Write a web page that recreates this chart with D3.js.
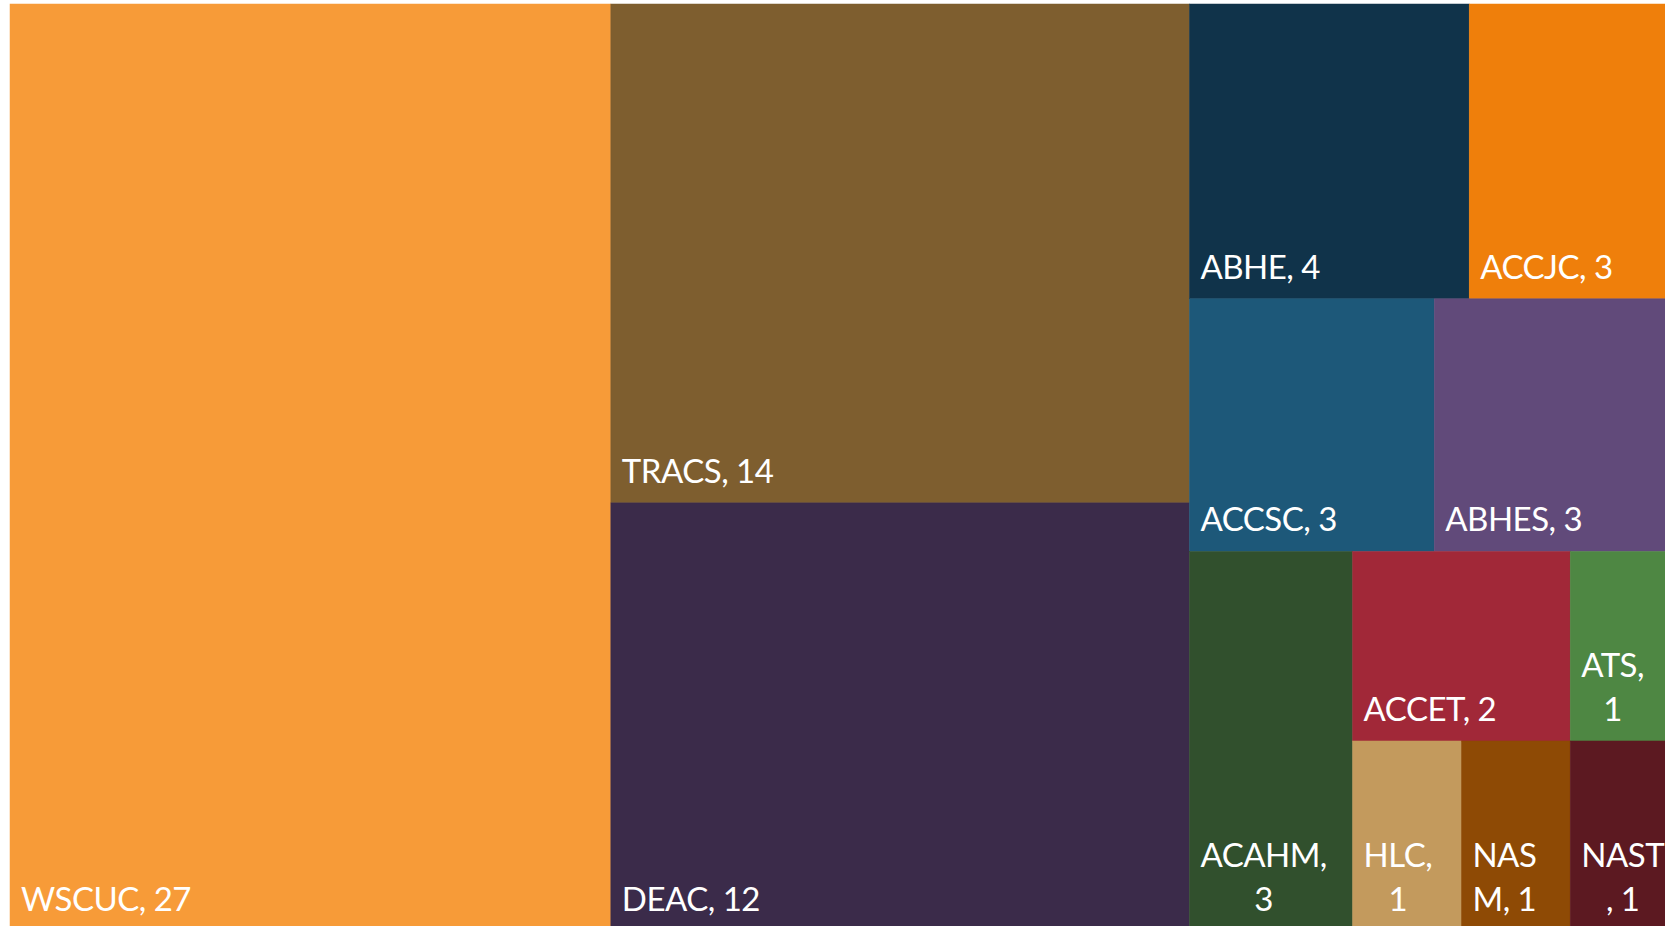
<!DOCTYPE html>
<html>
<head>
<meta charset="utf-8">
<script src="https://cdn.jsdelivr.net/npm/d3@7"></script>
<style>
  html, body { margin: 0; padding: 0; background: #ffffff; overflow: hidden; }
  #chart text { font-family: Lato, "Open Sans", sans-serif; fill: #ffffff; letter-spacing: -0.5px; }
</style>
</head>
<body>
<div id="chart"></div>
<script>
var names = ["WSCUC", "TRACS", "DEAC", "ABHE", "ACCJC", "ACCSC", "ABHES", "ACAHM", "ACCET", "ATS", "HLC", "NASM", "NAST"];
var counts = [27, 14, 12, 4, 3, 3, 3, 3, 2, 1, 1, 1, 1];
var colors = ["#F79B38", "#7E5E2F", "#3B2B4A", "#10334A", "#EF7F0B", "#1D5879", "#614A7A",
              "#31502D", "#A12838", "#4E8743", "#C39A5D", "#8E4A05", "#5C1921"];

var width = 1665, height = 926;
// the plot area runs a little past the right and bottom edges of the picture
var plotX = 10, plotY = 4, plotW = 1669, plotH = 926.5;
var pad = 11, fontSize = 33, lineGap = 44, baseOff = 20;

var svg = d3.select("#chart").append("svg")
  .attr("width", width)
  .attr("height", height);

var rows = names.map(function(n, i) { return {name: n, value: counts[i], color: colors[i]}; });

var root = d3.hierarchy({children: rows})
  .sum(function(d) { return d.value || 0; })
  .sort(function(a, b) { return b.value - a.value; });

// squarify like d3's, but d3 clamps the ratio at 1 and this layout wants a bit under 1
function squarify(ratio) {
  return function(parent, x0, y0, x1, y1) {
    var nodes = parent.children, n = nodes.length, i0 = 0, i1 = 0, value = parent.value;
    while (i0 < n) {
      var dx = x1 - x0, dy = y1 - y0;
      var sum = nodes[i1++].value, minV = sum, maxV = sum;
      var alpha = Math.max(dy / dx, dx / dy) / (value * ratio);
      var beta = sum * sum * alpha;
      var minRatio = Math.max(maxV / beta, beta / minV);
      for (; i1 < n; ++i1) {
        var v = nodes[i1].value;
        sum += v;
        if (v < minV) minV = v;
        if (v > maxV) maxV = v;
        beta = sum * sum * alpha;
        var r = Math.max(maxV / beta, beta / minV);
        if (r > minRatio) { sum -= v; break; }
        minRatio = r;
      }
      var row = {value: sum, children: nodes.slice(i0, i1)};
      if (dx < dy) d3.treemapDice(row, x0, y0, x1, y0 += dy * sum / value);
      else d3.treemapSlice(row, x0, y0, x0 += dx * sum / value, y1);
      value -= sum;
      i0 = i1;
    }
  };
}

d3.treemap()
  .tile(squarify(0.85))
  .size([plotW, plotH])
  .round(false)(root);

var g = svg.append("g").attr("transform", "translate(" + plotX + "," + plotY + ")");

var cell = g.selectAll("g.cell")
  .data(root.leaves())
  .enter().append("g")
  .attr("class", "cell");

cell.append("rect")
  .attr("x", function(d) { return d.x0; })
  .attr("y", function(d) { return d.y0; })
  .attr("width", function(d) { return d.x1 - d.x0; })
  .attr("height", function(d) { return d.y1 - d.y0; })
  .attr("fill", function(d) { return d.data.color; })
  .attr("stroke", function(d) { return d.data.color; })
  .attr("stroke-width", 0.5);

// measuring helper
var probe = svg.append("text").attr("font-size", fontSize).attr("x", -1000).attr("y", -1000);
function textW(s) {
  probe.text(s);
  return probe.node().getComputedTextLength();
}

// greedy wrap: break at spaces, break inside a word if it still doesn't fit
function wrap(str, maxW) {
  var words = str.split(" ");
  var lines = [];
  var line = "";
  words.forEach(function(w) {
    var test = line ? line + " " + w : w;
    if (textW(test) <= maxW) { line = test; return; }
    if (line) { lines.push(line); line = ""; }
    if (textW(w) <= maxW) { line = w; return; }
    for (var i = 0; i < w.length; i++) {
      var t = line + w[i];
      if (textW(t) <= maxW || !line) line = t;
      else { lines.push(line); line = w[i]; }
    }
  });
  if (line) lines.push(line);
  return lines;
}

cell.each(function(d) {
  var label = d.data.name + ", " + d.data.value;
  var lines = wrap(label, d.x1 - d.x0 - 2 * pad);
  var blockW = d3.max(lines, textW);
  var cx = d.x0 + pad + blockW / 2;
  var t = d3.select(this).append("text")
    .attr("font-size", fontSize)
    .attr("text-anchor", "middle");
  lines.forEach(function(l, i) {
    t.append("tspan")
      .attr("x", cx)
      .attr("y", d.y1 - baseOff - (lines.length - 1 - i) * lineGap)
      .text(l);
  });
});

probe.remove();
</script>
</body>
</html>
